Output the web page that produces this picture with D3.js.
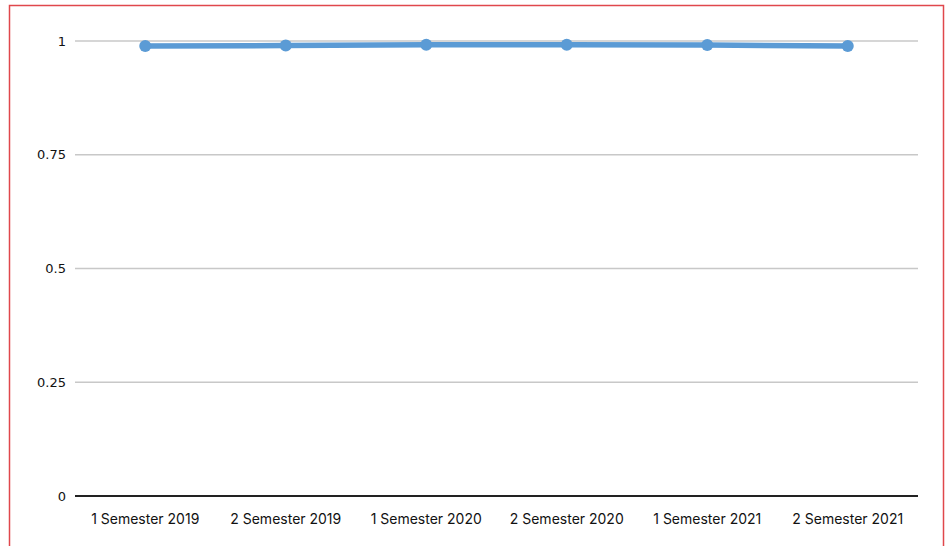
<!DOCTYPE html>
<html><head><meta charset="utf-8">
<script src="https://cdn.jsdelivr.net/npm/d3@7"></script>
<style>body{margin:0;background:#fff;} svg{display:block;}</style>
</head><body>
<svg id="c" width="945" height="546"></svg>
<script>
const categories = ["1 Semester 2019","2 Semester 2019","1 Semester 2020","2 Semester 2020","1 Semester 2021","2 Semester 2021"];
const values = [0.989, 0.990, 0.992, 0.992, 0.991, 0.989];
const yTicks = [0, 0.25, 0.5, 0.75, 1];
const yTickLabels = ["0", "0.25", "0.5", "0.75", "1"];

(function () {
const svg = d3.select("#c");
svg.append("rect").attr("x", 9.5).attr("y", 5.5).attr("width", 934).attr("height", 560)
  .attr("fill", "#fff").attr("stroke", "#e0474c").attr("stroke-width", 1.5);

const mLeft = 75, mRight = 918, mTop = 41, mBottom = 496;
const x = d3.scaleBand().domain(categories).range([mLeft, mRight]);
const y = d3.scaleLinear().domain([0, 1]).range([mBottom, mTop]);

const g = svg.append("g");
g.selectAll("line.grid").data(yTicks.filter(d => d > 0)).join("line")
  .attr("x1", mLeft).attr("x2", mRight)
  .attr("y1", d => y(d)).attr("y2", d => y(d))
  .attr("stroke", "#c8c8c8").attr("stroke-width", 1.5);
g.append("line").attr("x1", mLeft).attr("x2", mRight).attr("y1", y(0)).attr("y2", y(0))
  .attr("stroke", "#222").attr("stroke-width", 2);

const yAxis = d3.axisLeft(y).tickValues(yTicks).tickFormat((d, i) => yTickLabels[i]).tickSize(0).tickPadding(9);
const ya = svg.append("g").attr("transform", `translate(${mLeft},0)`).call(yAxis);
ya.select(".domain").remove();
ya.selectAll("text").attr("font-family", "'DejaVu Sans', sans-serif").attr("font-size", 13).attr("fill", "#111");

const xAxis = d3.axisBottom(x).tickSize(0).tickPadding(18);
const xa = svg.append("g").attr("transform", `translate(0,${mBottom})`).call(xAxis);
xa.select(".domain").remove();
xa.selectAll("text").attr("font-family", "Inter, 'Noto Sans', sans-serif").attr("font-size", 14).attr("fill", "#111");

const line = d3.line().x((d, i) => x(categories[i]) + x.bandwidth() / 2).y(d => y(d));
svg.append("path").datum(values).attr("d", line).attr("fill", "none")
  .attr("stroke", "#5b9bd5").attr("stroke-width", 5.5).attr("stroke-linejoin", "round");
svg.selectAll("circle.pt").data(values).join("circle")
  .attr("cx", (d, i) => x(categories[i]) + x.bandwidth() / 2)
  .attr("cy", d => y(d)).attr("r", 6).attr("fill", "#5b9bd5");
})();
</script>
</body></html>
